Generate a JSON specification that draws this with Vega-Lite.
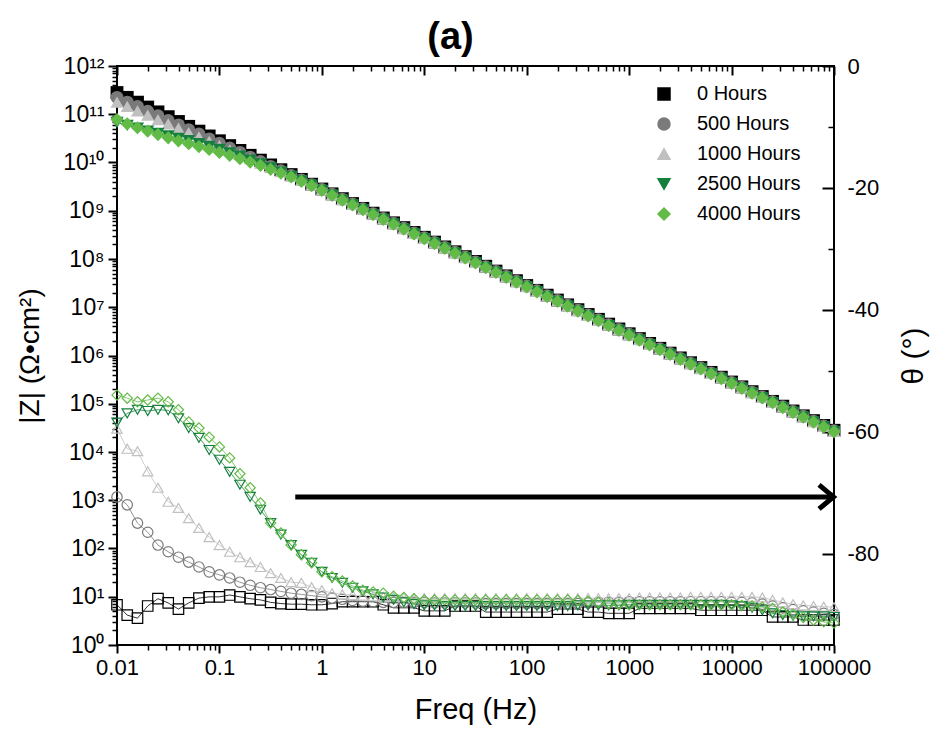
{
"$schema": "https://vega.github.io/schema/vega-lite/v6.json",
"width": 717, "height": 579,
"autosize": {"type": "none"},
"padding": {"left": 117, "top": 66, "right": 104, "bottom": 97},
"background": "white",
"title": {"text": "(a)", "fontSize": 38, "fontWeight": "bold", "font": "Liberation Sans", "dx": -25, "offset": -2, "color": "black"},
"config": {"font": "Liberation Sans", "view": {"stroke": "black", "strokeWidth": 2},
  "axis": {"grid": false, "domain": false, "tickColor": "black", "labelColor": "black", "titleColor": "black", "labelFont": "Liberation Sans", "titleFont": "Liberation Sans", "titleFontWeight": "normal"}},
"datasets": {
"arrow": [{"f1": 0.55, "f2": 93000, "fh": 84000, "p": -70.7}],
"d": [
{"f":0.01,"h":"0 Hours","z":2.82e11,"p":-88.4},{"f":0.01259,"h":"0 Hours","z":2.24e11,"p":-90.1},{"f":0.01585,"h":"0 Hours","z":1.78e11,"p":-90.6},{"f":0.01995,"h":"0 Hours","z":1.41e11,"p":-88.6},{"f":0.02512,"h":"0 Hours","z":1.12e11,"p":-87.4},{"f":0.03162,"h":"0 Hours","z":8.91e10,"p":-88.1},{"f":0.03981,"h":"0 Hours","z":7.08e10,"p":-89.1},{"f":0.05012,"h":"0 Hours","z":5.62e10,"p":-88.1},{"f":0.0631,"h":"0 Hours","z":4.47e10,"p":-87.3},{"f":0.07943,"h":"0 Hours","z":3.55e10,"p":-87.1},
{"f":0.1,"h":"0 Hours","z":2.82e10,"p":-87.1},{"f":0.1259,"h":"0 Hours","z":2.24e10,"p":-86.8},{"f":0.1585,"h":"0 Hours","z":1.78e10,"p":-87.1},{"f":0.1995,"h":"0 Hours","z":1.41e10,"p":-87.4},{"f":0.2512,"h":"0 Hours","z":1.12e10,"p":-87.6},{"f":0.3162,"h":"0 Hours","z":8.91e9,"p":-88.0},{"f":0.3981,"h":"0 Hours","z":7.08e9,"p":-88.2},{"f":0.5012,"h":"0 Hours","z":5.62e9,"p":-88.3},{"f":0.631,"h":"0 Hours","z":4.47e9,"p":-88.3},{"f":0.7943,"h":"0 Hours","z":3.55e9,"p":-88.4},
{"f":1,"h":"0 Hours","z":2.82e9,"p":-88.4},{"f":1.259,"h":"0 Hours","z":2.24e9,"p":-88.2},{"f":1.585,"h":"0 Hours","z":1.78e9,"p":-87.9},{"f":1.995,"h":"0 Hours","z":1.41e9,"p":-87.9},{"f":2.512,"h":"0 Hours","z":1.12e9,"p":-87.9},{"f":3.162,"h":"0 Hours","z":8.91e8,"p":-87.9},{"f":3.981,"h":"0 Hours","z":7.08e8,"p":-88.4},{"f":5.012,"h":"0 Hours","z":5.62e8,"p":-88.9},{"f":6.31,"h":"0 Hours","z":4.47e8,"p":-88.9},{"f":7.943,"h":"0 Hours","z":3.55e8,"p":-88.9},
{"f":10,"h":"0 Hours","z":2.82e8,"p":-89.4},{"f":12.59,"h":"0 Hours","z":2.24e8,"p":-89.4},{"f":15.85,"h":"0 Hours","z":1.78e8,"p":-89.4},{"f":19.95,"h":"0 Hours","z":1.41e8,"p":-88.6},{"f":25.12,"h":"0 Hours","z":1.12e8,"p":-88.6},{"f":31.62,"h":"0 Hours","z":8.91e7,"p":-88.6},{"f":39.81,"h":"0 Hours","z":7.08e7,"p":-89.6},{"f":50.12,"h":"0 Hours","z":5.62e7,"p":-89.6},{"f":63.1,"h":"0 Hours","z":4.47e7,"p":-89.6},{"f":79.43,"h":"0 Hours","z":3.55e7,"p":-89.6},
{"f":100,"h":"0 Hours","z":2.82e7,"p":-89.6},{"f":125.9,"h":"0 Hours","z":2.24e7,"p":-89.6},{"f":158.5,"h":"0 Hours","z":1.78e7,"p":-89.6},{"f":199.5,"h":"0 Hours","z":1.41e7,"p":-89.1},{"f":251.2,"h":"0 Hours","z":1.12e7,"p":-89.1},{"f":316.2,"h":"0 Hours","z":8.91e6,"p":-89.1},{"f":398.1,"h":"0 Hours","z":7.08e6,"p":-89.6},{"f":501.2,"h":"0 Hours","z":5.62e6,"p":-89.6},{"f":631,"h":"0 Hours","z":4.47e6,"p":-89.8},{"f":794.3,"h":"0 Hours","z":3.55e6,"p":-89.8},
{"f":1000,"h":"0 Hours","z":2.82e6,"p":-89.8},{"f":1259,"h":"0 Hours","z":2.24e6,"p":-89.0},{"f":1585,"h":"0 Hours","z":1.78e6,"p":-89.0},{"f":1995,"h":"0 Hours","z":1.41e6,"p":-89.0},{"f":2512,"h":"0 Hours","z":1.12e6,"p":-89.0},{"f":3162,"h":"0 Hours","z":8.91e5,"p":-89.0},{"f":3981,"h":"0 Hours","z":7.08e5,"p":-89.0},{"f":5012,"h":"0 Hours","z":5.62e5,"p":-89.3},{"f":6310,"h":"0 Hours","z":4.47e5,"p":-89.3},{"f":7943,"h":"0 Hours","z":3.55e5,"p":-89.3},
{"f":10000,"h":"0 Hours","z":2.82e5,"p":-89.3},{"f":12590,"h":"0 Hours","z":2.24e5,"p":-89.3},{"f":15850,"h":"0 Hours","z":1.78e5,"p":-89.3},{"f":19950,"h":"0 Hours","z":1.41e5,"p":-89.3},{"f":25120,"h":"0 Hours","z":1.12e5,"p":-90.4},{"f":31620,"h":"0 Hours","z":8.91e4,"p":-90.4},{"f":39810,"h":"0 Hours","z":7.08e4,"p":-90.4},{"f":50120,"h":"0 Hours","z":5.62e4,"p":-90.9},{"f":63100,"h":"0 Hours","z":4.47e4,"p":-90.9},{"f":79430,"h":"0 Hours","z":3.55e4,"p":-90.9},
{"f":100000,"h":"0 Hours","z":2.82e4,"p":-90.9},

{"f":0.01,"h":"500 Hours","z":2.24e11,"p":-70.7},{"f":0.01259,"h":"500 Hours","z":1.78e11,"p":-72.0},{"f":0.01585,"h":"500 Hours","z":1.45e11,"p":-75.0},{"f":0.01995,"h":"500 Hours","z":1.15e11,"p":-76.5},{"f":0.02512,"h":"500 Hours","z":9.33e10,"p":-78.6},{"f":0.03162,"h":"500 Hours","z":7.41e10,"p":-79.7},{"f":0.03981,"h":"500 Hours","z":6.03e10,"p":-80.6},{"f":0.05012,"h":"500 Hours","z":4.79e10,"p":-81.4},{"f":0.0631,"h":"500 Hours","z":3.89e10,"p":-82.2},{"f":0.07943,"h":"500 Hours","z":3.09e10,"p":-83.0},
{"f":0.1,"h":"500 Hours","z":2.51e10,"p":-83.5},{"f":0.1259,"h":"500 Hours","z":2.00e10,"p":-84.0},{"f":0.1585,"h":"500 Hours","z":1.62e10,"p":-84.7},{"f":0.1995,"h":"500 Hours","z":1.29e10,"p":-85.2},{"f":0.2512,"h":"500 Hours","z":1.05e10,"p":-85.6},{"f":0.3162,"h":"500 Hours","z":8.32e9,"p":-85.9},{"f":0.3981,"h":"500 Hours","z":6.76e9,"p":-86.2},{"f":0.5012,"h":"500 Hours","z":5.37e9,"p":-86.5},{"f":0.631,"h":"500 Hours","z":4.37e9,"p":-86.7},{"f":0.7943,"h":"500 Hours","z":3.47e9,"p":-86.9},
{"f":1,"h":"500 Hours","z":2.75e9,"p":-87.1},{"f":1.259,"h":"500 Hours","z":2.19e9,"p":-87.3},{"f":1.585,"h":"500 Hours","z":1.74e9,"p":-87.5},{"f":1.995,"h":"500 Hours","z":1.38e9,"p":-87.7},{"f":2.512,"h":"500 Hours","z":1.10e9,"p":-87.8},{"f":3.162,"h":"500 Hours","z":8.71e8,"p":-87.9},{"f":3.981,"h":"500 Hours","z":6.92e8,"p":-88.0},{"f":5.012,"h":"500 Hours","z":5.50e8,"p":-88.0},{"f":6.31,"h":"500 Hours","z":4.37e8,"p":-88.0},{"f":7.943,"h":"500 Hours","z":3.47e8,"p":-88.0},
{"f":10,"h":"500 Hours","z":2.75e8,"p":-88.0},{"f":12.59,"h":"500 Hours","z":2.19e8,"p":-88.1},{"f":15.85,"h":"500 Hours","z":1.74e8,"p":-88.1},{"f":19.95,"h":"500 Hours","z":1.38e8,"p":-88.1},{"f":25.12,"h":"500 Hours","z":1.10e8,"p":-88.1},{"f":31.62,"h":"500 Hours","z":8.71e7,"p":-88.1},{"f":39.81,"h":"500 Hours","z":6.92e7,"p":-88.2},{"f":50.12,"h":"500 Hours","z":5.50e7,"p":-88.2},{"f":63.1,"h":"500 Hours","z":4.37e7,"p":-88.2},{"f":79.43,"h":"500 Hours","z":3.47e7,"p":-88.2},
{"f":100,"h":"500 Hours","z":2.75e7,"p":-88.2},{"f":125.9,"h":"500 Hours","z":2.19e7,"p":-88.2},{"f":158.5,"h":"500 Hours","z":1.74e7,"p":-88.2},{"f":199.5,"h":"500 Hours","z":1.38e7,"p":-88.2},{"f":251.2,"h":"500 Hours","z":1.10e7,"p":-88.2},{"f":316.2,"h":"500 Hours","z":8.71e6,"p":-88.2},{"f":398.1,"h":"500 Hours","z":6.92e6,"p":-88.1},{"f":501.2,"h":"500 Hours","z":5.50e6,"p":-88.0},{"f":631,"h":"500 Hours","z":4.37e6,"p":-88.0},{"f":794.3,"h":"500 Hours","z":3.47e6,"p":-88.0},
{"f":1000,"h":"500 Hours","z":2.75e6,"p":-87.9},{"f":1259,"h":"500 Hours","z":2.19e6,"p":-87.9},{"f":1585,"h":"500 Hours","z":1.74e6,"p":-87.9},{"f":1995,"h":"500 Hours","z":1.38e6,"p":-87.9},{"f":2512,"h":"500 Hours","z":1.10e6,"p":-87.9},{"f":3162,"h":"500 Hours","z":8.71e5,"p":-87.9},{"f":3981,"h":"500 Hours","z":6.92e5,"p":-87.9},{"f":5012,"h":"500 Hours","z":5.50e5,"p":-87.9},{"f":6310,"h":"500 Hours","z":4.37e5,"p":-87.9},{"f":7943,"h":"500 Hours","z":3.47e5,"p":-87.9},
{"f":10000,"h":"500 Hours","z":2.75e5,"p":-88.0},{"f":12590,"h":"500 Hours","z":2.19e5,"p":-88.0},{"f":15850,"h":"500 Hours","z":1.74e5,"p":-88.1},{"f":19950,"h":"500 Hours","z":1.38e5,"p":-88.3},{"f":25120,"h":"500 Hours","z":1.10e5,"p":-88.6},{"f":31620,"h":"500 Hours","z":8.71e4,"p":-88.9},{"f":39810,"h":"500 Hours","z":6.92e4,"p":-89.2},{"f":50120,"h":"500 Hours","z":5.50e4,"p":-89.4},{"f":63100,"h":"500 Hours","z":4.37e4,"p":-89.6},{"f":79430,"h":"500 Hours","z":3.47e4,"p":-89.8},
{"f":100000,"h":"500 Hours","z":2.75e4,"p":-90.0},

{"f":0.01,"h":"1000 Hours","z":1.78e11,"p":-59.5},{"f":0.01259,"h":"1000 Hours","z":1.45e11,"p":-62.8},{"f":0.01585,"h":"1000 Hours","z":1.17e11,"p":-63.2},{"f":0.01995,"h":"1000 Hours","z":9.55e10,"p":-66.5},{"f":0.02512,"h":"1000 Hours","z":7.76e10,"p":-69.2},{"f":0.03162,"h":"1000 Hours","z":6.31e10,"p":-71.5},{"f":0.03981,"h":"1000 Hours","z":5.13e10,"p":-72.5},{"f":0.05012,"h":"1000 Hours","z":4.17e10,"p":-74.2},{"f":0.0631,"h":"1000 Hours","z":3.39e10,"p":-75.8},{"f":0.07943,"h":"1000 Hours","z":2.75e10,"p":-77.3},
{"f":0.1,"h":"1000 Hours","z":2.24e10,"p":-78.6},{"f":0.1259,"h":"1000 Hours","z":1.82e10,"p":-79.7},{"f":0.1585,"h":"1000 Hours","z":1.48e10,"p":-80.6},{"f":0.1995,"h":"1000 Hours","z":1.20e10,"p":-81.4},{"f":0.2512,"h":"1000 Hours","z":9.77e9,"p":-82.2},{"f":0.3162,"h":"1000 Hours","z":7.94e9,"p":-83.2},{"f":0.3981,"h":"1000 Hours","z":6.46e9,"p":-84.0},{"f":0.5012,"h":"1000 Hours","z":5.25e9,"p":-84.7},{"f":0.631,"h":"1000 Hours","z":4.27e9,"p":-84.8},{"f":0.7943,"h":"1000 Hours","z":3.39e9,"p":-85.5},
{"f":1,"h":"1000 Hours","z":2.69e9,"p":-86.0},{"f":1.259,"h":"1000 Hours","z":2.14e9,"p":-86.5},{"f":1.585,"h":"1000 Hours","z":1.70e9,"p":-86.7},{"f":1.995,"h":"1000 Hours","z":1.35e9,"p":-86.8},{"f":2.512,"h":"1000 Hours","z":1.07e9,"p":-86.9},{"f":3.162,"h":"1000 Hours","z":8.51e8,"p":-87.0},{"f":3.981,"h":"1000 Hours","z":6.76e8,"p":-87.1},{"f":5.012,"h":"1000 Hours","z":5.37e8,"p":-87.2},{"f":6.31,"h":"1000 Hours","z":4.27e8,"p":-87.2},{"f":7.943,"h":"1000 Hours","z":3.39e8,"p":-87.3},
{"f":10,"h":"1000 Hours","z":2.69e8,"p":-87.3},{"f":12.59,"h":"1000 Hours","z":2.14e8,"p":-87.3},{"f":15.85,"h":"1000 Hours","z":1.70e8,"p":-87.3},{"f":19.95,"h":"1000 Hours","z":1.35e8,"p":-87.3},{"f":25.12,"h":"1000 Hours","z":1.07e8,"p":-87.3},{"f":31.62,"h":"1000 Hours","z":8.51e7,"p":-87.3},{"f":39.81,"h":"1000 Hours","z":6.76e7,"p":-87.3},{"f":50.12,"h":"1000 Hours","z":5.37e7,"p":-87.3},{"f":63.1,"h":"1000 Hours","z":4.27e7,"p":-87.3},{"f":79.43,"h":"1000 Hours","z":3.39e7,"p":-87.3},
{"f":100,"h":"1000 Hours","z":2.69e7,"p":-87.3},{"f":125.9,"h":"1000 Hours","z":2.14e7,"p":-87.3},{"f":158.5,"h":"1000 Hours","z":1.70e7,"p":-87.3},{"f":199.5,"h":"1000 Hours","z":1.35e7,"p":-87.3},{"f":251.2,"h":"1000 Hours","z":1.07e7,"p":-87.3},{"f":316.2,"h":"1000 Hours","z":8.51e6,"p":-87.3},{"f":398.1,"h":"1000 Hours","z":6.76e6,"p":-87.3},{"f":501.2,"h":"1000 Hours","z":5.37e6,"p":-87.3},{"f":631,"h":"1000 Hours","z":4.27e6,"p":-87.3},{"f":794.3,"h":"1000 Hours","z":3.39e6,"p":-87.3},
{"f":1000,"h":"1000 Hours","z":2.69e6,"p":-87.3},{"f":1259,"h":"1000 Hours","z":2.14e6,"p":-87.2},{"f":1585,"h":"1000 Hours","z":1.70e6,"p":-87.2},{"f":1995,"h":"1000 Hours","z":1.35e6,"p":-87.2},{"f":2512,"h":"1000 Hours","z":1.07e6,"p":-87.2},{"f":3162,"h":"1000 Hours","z":8.51e5,"p":-87.2},{"f":3981,"h":"1000 Hours","z":6.76e5,"p":-87.1},{"f":5012,"h":"1000 Hours","z":5.37e5,"p":-87.1},{"f":6310,"h":"1000 Hours","z":4.27e5,"p":-87.1},{"f":7943,"h":"1000 Hours","z":3.39e5,"p":-87.1},
{"f":10000,"h":"1000 Hours","z":2.69e5,"p":-87.1},{"f":12590,"h":"1000 Hours","z":2.14e5,"p":-87.1},{"f":15850,"h":"1000 Hours","z":1.70e5,"p":-87.1},{"f":19950,"h":"1000 Hours","z":1.35e5,"p":-87.2},{"f":25120,"h":"1000 Hours","z":1.07e5,"p":-87.6},{"f":31620,"h":"1000 Hours","z":8.51e4,"p":-88.0},{"f":39810,"h":"1000 Hours","z":6.76e4,"p":-88.3},{"f":50120,"h":"1000 Hours","z":5.37e4,"p":-88.5},{"f":63100,"h":"1000 Hours","z":4.27e4,"p":-88.6},{"f":79430,"h":"1000 Hours","z":3.39e4,"p":-88.7},
{"f":100000,"h":"1000 Hours","z":2.69e4,"p":-88.8},

{"f":0.01,"h":"2500 Hours","z":6.76e10,"p":-58.5},{"f":0.01259,"h":"2500 Hours","z":5.89e10,"p":-57.0},{"f":0.01585,"h":"2500 Hours","z":5.13e10,"p":-56.4},{"f":0.01995,"h":"2500 Hours","z":4.47e10,"p":-56.6},{"f":0.02512,"h":"2500 Hours","z":3.98e10,"p":-56.4},{"f":0.03162,"h":"2500 Hours","z":3.55e10,"p":-56.5},{"f":0.03981,"h":"2500 Hours","z":3.16e10,"p":-57.8},{"f":0.05012,"h":"2500 Hours","z":2.82e10,"p":-59.4},{"f":0.0631,"h":"2500 Hours","z":2.45e10,"p":-61.0},{"f":0.07943,"h":"2500 Hours","z":2.14e10,"p":-63.0},
{"f":0.1,"h":"2500 Hours","z":1.86e10,"p":-64.6},{"f":0.1259,"h":"2500 Hours","z":1.58e10,"p":-66.6},{"f":0.1585,"h":"2500 Hours","z":1.35e10,"p":-68.7},{"f":0.1995,"h":"2500 Hours","z":1.12e10,"p":-70.7},{"f":0.2512,"h":"2500 Hours","z":9.33e9,"p":-72.8},{"f":0.3162,"h":"2500 Hours","z":7.76e9,"p":-75.0},{"f":0.3981,"h":"2500 Hours","z":6.31e9,"p":-76.9},{"f":0.5012,"h":"2500 Hours","z":5.13e9,"p":-78.6},{"f":0.631,"h":"2500 Hours","z":4.17e9,"p":-80.2},{"f":0.7943,"h":"2500 Hours","z":3.39e9,"p":-81.5},
{"f":1,"h":"2500 Hours","z":2.63e9,"p":-83.0},{"f":1.259,"h":"2500 Hours","z":2.09e9,"p":-84.0},{"f":1.585,"h":"2500 Hours","z":1.66e9,"p":-84.8},{"f":1.995,"h":"2500 Hours","z":1.32e9,"p":-85.6},{"f":2.512,"h":"2500 Hours","z":1.05e9,"p":-86.2},{"f":3.162,"h":"2500 Hours","z":8.32e8,"p":-86.7},{"f":3.981,"h":"2500 Hours","z":6.61e8,"p":-87.2},{"f":5.012,"h":"2500 Hours","z":5.25e8,"p":-87.6},{"f":6.31,"h":"2500 Hours","z":4.17e8,"p":-88.0},{"f":7.943,"h":"2500 Hours","z":3.31e8,"p":-88.3},
{"f":10,"h":"2500 Hours","z":2.63e8,"p":-88.5},{"f":12.59,"h":"2500 Hours","z":2.09e8,"p":-88.5},{"f":15.85,"h":"2500 Hours","z":1.66e8,"p":-88.6},{"f":19.95,"h":"2500 Hours","z":1.32e8,"p":-88.6},{"f":25.12,"h":"2500 Hours","z":1.05e8,"p":-88.6},{"f":31.62,"h":"2500 Hours","z":8.32e7,"p":-88.6},{"f":39.81,"h":"2500 Hours","z":6.61e7,"p":-88.6},{"f":50.12,"h":"2500 Hours","z":5.25e7,"p":-88.6},{"f":63.1,"h":"2500 Hours","z":4.17e7,"p":-88.6},{"f":79.43,"h":"2500 Hours","z":3.31e7,"p":-88.6},
{"f":100,"h":"2500 Hours","z":2.63e7,"p":-88.6},{"f":125.9,"h":"2500 Hours","z":2.09e7,"p":-88.6},{"f":158.5,"h":"2500 Hours","z":1.66e7,"p":-88.6},{"f":199.5,"h":"2500 Hours","z":1.32e7,"p":-88.6},{"f":251.2,"h":"2500 Hours","z":1.05e7,"p":-88.6},{"f":316.2,"h":"2500 Hours","z":8.32e6,"p":-88.5},{"f":398.1,"h":"2500 Hours","z":6.61e6,"p":-88.5},{"f":501.2,"h":"2500 Hours","z":5.25e6,"p":-88.5},{"f":631,"h":"2500 Hours","z":4.17e6,"p":-88.5},{"f":794.3,"h":"2500 Hours","z":3.31e6,"p":-88.5},
{"f":1000,"h":"2500 Hours","z":2.63e6,"p":-88.4},{"f":1259,"h":"2500 Hours","z":2.09e6,"p":-88.4},{"f":1585,"h":"2500 Hours","z":1.66e6,"p":-88.4},{"f":1995,"h":"2500 Hours","z":1.32e6,"p":-88.4},{"f":2512,"h":"2500 Hours","z":1.05e6,"p":-88.4},{"f":3162,"h":"2500 Hours","z":8.32e5,"p":-88.4},{"f":3981,"h":"2500 Hours","z":6.61e5,"p":-88.4},{"f":5012,"h":"2500 Hours","z":5.25e5,"p":-88.4},{"f":6310,"h":"2500 Hours","z":4.17e5,"p":-88.4},{"f":7943,"h":"2500 Hours","z":3.31e5,"p":-88.4},
{"f":10000,"h":"2500 Hours","z":2.63e5,"p":-88.5},{"f":12590,"h":"2500 Hours","z":2.09e5,"p":-88.6},{"f":15850,"h":"2500 Hours","z":1.66e5,"p":-88.9},{"f":19950,"h":"2500 Hours","z":1.32e5,"p":-89.3},{"f":25120,"h":"2500 Hours","z":1.05e5,"p":-89.8},{"f":31620,"h":"2500 Hours","z":8.32e4,"p":-90.1},{"f":39810,"h":"2500 Hours","z":6.61e4,"p":-90.2},{"f":50120,"h":"2500 Hours","z":5.25e4,"p":-90.3},{"f":63100,"h":"2500 Hours","z":4.17e4,"p":-90.3},{"f":79430,"h":"2500 Hours","z":3.31e4,"p":-90.3},
{"f":100000,"h":"2500 Hours","z":2.63e4,"p":-90.4},

{"f":0.01,"h":"4000 Hours","z":7.76e10,"p":-54.0},{"f":0.01259,"h":"4000 Hours","z":6.31e10,"p":-54.5},{"f":0.01585,"h":"4000 Hours","z":5.25e10,"p":-55.1},{"f":0.01995,"h":"4000 Hours","z":4.47e10,"p":-54.8},{"f":0.02512,"h":"4000 Hours","z":3.80e10,"p":-54.5},{"f":0.03162,"h":"4000 Hours","z":3.24e10,"p":-55.1},{"f":0.03981,"h":"4000 Hours","z":2.82e10,"p":-56.4},{"f":0.05012,"h":"4000 Hours","z":2.45e10,"p":-58.4},{"f":0.0631,"h":"4000 Hours","z":2.14e10,"p":-59.4},{"f":0.07943,"h":"4000 Hours","z":1.86e10,"p":-60.9},
{"f":0.1,"h":"4000 Hours","z":1.62e10,"p":-62.5},{"f":0.1259,"h":"4000 Hours","z":1.41e10,"p":-64.3},{"f":0.1585,"h":"4000 Hours","z":1.20e10,"p":-66.9},{"f":0.1995,"h":"4000 Hours","z":1.02e10,"p":-69.2},{"f":0.2512,"h":"4000 Hours","z":8.71e9,"p":-71.7},{"f":0.3162,"h":"4000 Hours","z":7.24e9,"p":-75.0},{"f":0.3981,"h":"4000 Hours","z":6.03e9,"p":-76.6},{"f":0.5012,"h":"4000 Hours","z":5.01e9,"p":-78.6},{"f":0.631,"h":"4000 Hours","z":4.07e9,"p":-80.2},{"f":0.7943,"h":"4000 Hours","z":3.31e9,"p":-81.5},
{"f":1,"h":"4000 Hours","z":2.63e9,"p":-83.0},{"f":1.259,"h":"4000 Hours","z":2.09e9,"p":-83.8},{"f":1.585,"h":"4000 Hours","z":1.66e9,"p":-84.5},{"f":1.995,"h":"4000 Hours","z":1.32e9,"p":-85.3},{"f":2.512,"h":"4000 Hours","z":1.05e9,"p":-86.0},{"f":3.162,"h":"4000 Hours","z":8.32e8,"p":-86.3},{"f":3.981,"h":"4000 Hours","z":6.61e8,"p":-86.5},{"f":5.012,"h":"4000 Hours","z":5.25e8,"p":-87.0},{"f":6.31,"h":"4000 Hours","z":4.17e8,"p":-87.2},{"f":7.943,"h":"4000 Hours","z":3.31e8,"p":-87.4},
{"f":10,"h":"4000 Hours","z":2.63e8,"p":-87.6},{"f":12.59,"h":"4000 Hours","z":2.09e8,"p":-87.6},{"f":15.85,"h":"4000 Hours","z":1.66e8,"p":-87.6},{"f":19.95,"h":"4000 Hours","z":1.32e8,"p":-87.6},{"f":25.12,"h":"4000 Hours","z":1.05e8,"p":-87.6},{"f":31.62,"h":"4000 Hours","z":8.32e7,"p":-87.6},{"f":39.81,"h":"4000 Hours","z":6.61e7,"p":-87.6},{"f":50.12,"h":"4000 Hours","z":5.25e7,"p":-87.6},{"f":63.1,"h":"4000 Hours","z":4.17e7,"p":-87.6},{"f":79.43,"h":"4000 Hours","z":3.31e7,"p":-87.6},
{"f":100,"h":"4000 Hours","z":2.63e7,"p":-87.6},{"f":125.9,"h":"4000 Hours","z":2.09e7,"p":-87.6},{"f":158.5,"h":"4000 Hours","z":1.66e7,"p":-87.6},{"f":199.5,"h":"4000 Hours","z":1.32e7,"p":-87.6},{"f":251.2,"h":"4000 Hours","z":1.05e7,"p":-87.6},{"f":316.2,"h":"4000 Hours","z":8.32e6,"p":-87.7},{"f":398.1,"h":"4000 Hours","z":6.61e6,"p":-87.8},{"f":501.2,"h":"4000 Hours","z":5.25e6,"p":-88.0},{"f":631,"h":"4000 Hours","z":4.17e6,"p":-88.2},{"f":794.3,"h":"4000 Hours","z":3.31e6,"p":-88.3},
{"f":1000,"h":"4000 Hours","z":2.63e6,"p":-88.4},{"f":1259,"h":"4000 Hours","z":2.09e6,"p":-88.4},{"f":1585,"h":"4000 Hours","z":1.66e6,"p":-88.4},{"f":1995,"h":"4000 Hours","z":1.32e6,"p":-88.4},{"f":2512,"h":"4000 Hours","z":1.05e6,"p":-88.4},{"f":3162,"h":"4000 Hours","z":8.32e5,"p":-88.4},{"f":3981,"h":"4000 Hours","z":6.61e5,"p":-88.4},{"f":5012,"h":"4000 Hours","z":5.25e5,"p":-88.4},{"f":6310,"h":"4000 Hours","z":4.17e5,"p":-88.4},{"f":7943,"h":"4000 Hours","z":3.31e5,"p":-88.4},
{"f":10000,"h":"4000 Hours","z":2.63e5,"p":-88.4},{"f":12590,"h":"4000 Hours","z":2.09e5,"p":-88.5},{"f":15850,"h":"4000 Hours","z":1.66e5,"p":-88.6},{"f":19950,"h":"4000 Hours","z":1.32e5,"p":-88.8},{"f":25120,"h":"4000 Hours","z":1.05e5,"p":-89.0},{"f":31620,"h":"4000 Hours","z":8.32e4,"p":-89.6},{"f":39810,"h":"4000 Hours","z":6.61e4,"p":-90.0},{"f":50120,"h":"4000 Hours","z":5.25e4,"p":-90.5},{"f":63100,"h":"4000 Hours","z":4.17e4,"p":-90.9},{"f":79430,"h":"4000 Hours","z":3.31e4,"p":-91.2},
{"f":100000,"h":"4000 Hours","z":2.63e4,"p":-91.4}
]},
"layer": [
{"data": {"name": "d"},
 "mark": {"type": "line", "strokeWidth": 0.8},
 "encoding": {
  "x": {"field": "f", "type": "quantitative", "scale": {"type": "log", "domain": [0.01, 100000], "nice": false},
        "axis": {"orient": "bottom", "values": [0.01,0.1,1,10,100,1000,10000,100000], "format": "~g", "tickSize": 8, "tickWidth": 2, "labelFontSize": 22, "labelPadding": 4, "labelFlush": false, "title": "Freq (Hz)", "titleFontSize": 29, "titlePadding": 17}},
  "y": {"field": "p", "type": "quantitative", "scale": {"domain": [-95, 0], "nice": false, "zero": false},
        "axis": {"orient": "right", "values": [0,-20,-40,-60,-80], "labelExpr": "'' + datum.value", "tickSize": -12, "tickWidth": 2, "labelFontSize": 22, "labelPadding": 25, "title": "θ (°)", "titleAngle": 270, "titleFontSize": 30, "titlePadding": 50}},
  "color": {"field": "h", "type": "nominal", "scale": {"domain": ["0 Hours","500 Hours","1000 Hours","2500 Hours","4000 Hours"], "range": ["#000000","#7a7a7a","#c0c0c0","#15803d","#63bb47"]}}
 }},
{"data": {"name": "d"},
 "mark": {"type": "point", "filled": false, "strokeWidth": 1.2, "opacity": 1},
 "encoding": {
  "x": {"field": "f", "type": "quantitative", "scale": {"type": "log", "domain": [0.01, 100000], "nice": false},
        "axis": {"orient": "bottom", "values": [0.02,0.03,0.04,0.05,0.06,0.07,0.08,0.09,0.2,0.3,0.4,0.5,0.6,0.7,0.8,0.9,2,3,4,5,6,7,8,9,20,30,40,50,60,70,80,90,200,300,400,500,600,700,800,900,2000,3000,4000,5000,6000,7000,8000,9000,20000,30000,40000,50000,60000,70000,80000,90000], "tickSize": 5, "tickWidth": 1.5, "labels": false, "title": null}},
  "y": {"field": "p", "type": "quantitative", "scale": {"domain": [-95, 0], "nice": false, "zero": false},
        "axis": {"orient": "right", "values": [-10,-30,-50,-70,-90], "tickSize": -6, "tickWidth": 1.5, "labels": false, "title": null}},
  "color": {"field": "h", "type": "nominal", "scale": {"domain": ["0 Hours","500 Hours","1000 Hours","2500 Hours","4000 Hours"], "range": ["#000000","#7a7a7a","#c0c0c0","#15803d","#63bb47"]}},
  "shape": {"field": "h", "type": "nominal", "scale": {"domain": ["0 Hours","500 Hours","1000 Hours","2500 Hours","4000 Hours"], "range": ["square","circle","triangle-up","triangle-down","diamond"]}, "legend": null},
  "size": {"field": "h", "type": "ordinal", "scale": {"domain": ["0 Hours","500 Hours","1000 Hours","2500 Hours","4000 Hours"], "range": [110, 105, 150, 150, 185]}, "legend": null}
 }},
{"data": {"name": "d"},
 "mark": {"type": "line", "strokeWidth": 1},
 "encoding": {
  "x": {"field": "f", "type": "quantitative", "scale": {"type": "log", "domain": [0.01, 100000], "nice": false},
        "axis": {"orient": "top", "values": [0.01,0.1,1,10,100,1000,10000,100000], "tickSize": -9, "tickWidth": 2, "labels": false, "title": null}},
  "y": {"field": "z", "type": "quantitative", "scale": {"type": "log", "domain": [1, 1e12], "nice": false},
        "axis": {"orient": "left", "values": [1,10,100,1000,10000,100000,1e6,1e7,1e8,1e9,1e10,1e11,1e12], "labelExpr": "'10' + ['⁰','¹','²','³','⁴','⁵','⁶','⁷','⁸','⁹','¹⁰','¹¹','¹²'][round(log(datum.value)/LN10)]", "tickSize": 9, "tickWidth": 2, "labelFontSize": 23, "labelPadding": 4, "title": "|Z| (Ω•cm²)", "titleFontSize": 28, "titlePadding": 18}},
  "color": {"field": "h", "type": "nominal", "scale": {"domain": ["0 Hours","500 Hours","1000 Hours","2500 Hours","4000 Hours"], "range": ["#000000","#7a7a7a","#c0c0c0","#15803d","#63bb47"]}}
 }},
{"data": {"name": "d"},
 "mark": {"type": "point", "filled": true, "opacity": 1},
 "encoding": {
  "x": {"field": "f", "type": "quantitative", "scale": {"type": "log", "domain": [0.01, 100000], "nice": false},
        "axis": {"orient": "top", "values": [0.02,0.03,0.04,0.05,0.06,0.07,0.08,0.09,0.2,0.3,0.4,0.5,0.6,0.7,0.8,0.9,2,3,4,5,6,7,8,9,20,30,40,50,60,70,80,90,200,300,400,500,600,700,800,900,2000,3000,4000,5000,6000,7000,8000,9000,20000,30000,40000,50000,60000,70000,80000,90000], "tickSize": -5, "tickWidth": 1.5, "labels": false, "title": null}},
  "y": {"field": "z", "type": "quantitative", "scale": {"type": "log", "domain": [1, 1e12], "nice": false},
        "axis": {"orient": "left", "values": [2,3,4,5,6,7,8,9,20,30,40,50,60,70,80,90,200,300,400,500,600,700,800,900,2e3,3e3,4e3,5e3,6e3,7e3,8e3,9e3,2e4,3e4,4e4,5e4,6e4,7e4,8e4,9e4,2e5,3e5,4e5,5e5,6e5,7e5,8e5,9e5,2e6,3e6,4e6,5e6,6e6,7e6,8e6,9e6,2e7,3e7,4e7,5e7,6e7,7e7,8e7,9e7,2e8,3e8,4e8,5e8,6e8,7e8,8e8,9e8,2e9,3e9,4e9,5e9,6e9,7e9,8e9,9e9,2e10,3e10,4e10,5e10,6e10,7e10,8e10,9e10,2e11,3e11,4e11,5e11,6e11,7e11,8e11,9e11], "tickSize": 5, "tickWidth": 1.5, "labels": false, "title": null}},
  "color": {"field": "h", "type": "nominal", "scale": {"domain": ["0 Hours","500 Hours","1000 Hours","2500 Hours","4000 Hours"], "range": ["#000000","#7a7a7a","#c0c0c0","#15803d","#63bb47"]},
   "legend": {"orient": "none", "legendX": 537, "legendY": 18, "title": null, "padding": 0, "labelFontSize": 20, "labelColor": "black", "labelFont": "Liberation Sans", "symbolSize": 144, "labelOffset": 23, "rowPadding": 10,
     "encode": {"symbols": {
       "fill": {"value": {"expr": "scale('color', datum.value)"}},
       "stroke": {"value": {"expr": "scale('color', datum.value)"}},
       "strokeWidth": {"value": 1},
       "opacity": {"value": 1}}}}},
  "shape": {"field": "h", "type": "nominal", "scale": {"domain": ["0 Hours","500 Hours","1000 Hours","2500 Hours","4000 Hours"], "range": ["square","circle","triangle-up","triangle-down","diamond"]}, "legend": null},
  "size": {"field": "h", "type": "ordinal", "scale": {"domain": ["0 Hours","500 Hours","1000 Hours","2500 Hours","4000 Hours"], "range": [165, 175, 230, 230, 270]}, "legend": null}
 }},
{"data": {"name": "arrow"},
 "mark": {"type": "rule", "strokeWidth": 5, "color": "black", "strokeCap": "butt"},
 "encoding": {
  "x": {"field": "f1", "type": "quantitative", "scale": {"type": "log", "domain": [0.01, 100000], "nice": false}, "axis": null},
  "x2": {"field": "f2"},
  "y": {"field": "p", "type": "quantitative", "scale": {"domain": [-95, 0], "nice": false, "zero": false}, "axis": null}
 }},
{"data": {"name": "arrow"},
 "mark": {"type": "point", "shape": "M-0.6,-1L0.6,0L-0.6,1", "filled": false, "strokeWidth": 5, "size": 576, "color": "black", "opacity": 1},
 "encoding": {
  "x": {"field": "fh", "type": "quantitative", "scale": {"type": "log", "domain": [0.01, 100000], "nice": false}, "axis": null},
  "y": {"field": "p", "type": "quantitative", "scale": {"domain": [-95, 0], "nice": false, "zero": false}, "axis": null}
 }}
],
"resolve": {"scale": {"y": "independent", "size": "independent"}, "axis": {"x": "independent", "y": "independent"}}
}
